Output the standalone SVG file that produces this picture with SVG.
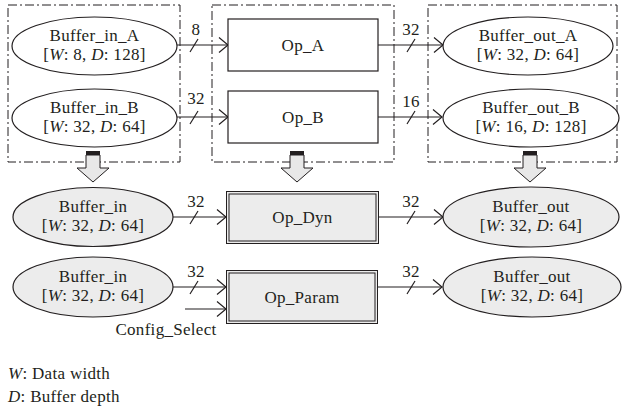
<svg xmlns="http://www.w3.org/2000/svg" width="623" height="414" viewBox="0 0 623 414" font-family="'Liberation Serif', 'DejaVu Serif', serif">
<style>
text{font-family:'Liberation Serif','DejaVu Serif',serif;font-size:17px;fill:#231f20;text-anchor:middle;letter-spacing:0.3px}
.it{font-style:italic}
.ell{fill:#fff;stroke:#231f20;stroke-width:1.2}
.ellg{fill:#ececec;stroke:#231f20;stroke-width:1.2}
.box{fill:#fff;stroke:#231f20;stroke-width:1.2}
.boxg{fill:#ececec;stroke:#231f20;stroke-width:1}
.grp{fill:none;stroke:#231f20;stroke-width:1;stroke-dasharray:9 3 2 3}
.ln{fill:none;stroke:#231f20;stroke-width:1.2}
.hol{fill:#e8e8e8;stroke:#231f20;stroke-width:1}
</style>
<defs>
<marker id="ah" markerWidth="12" markerHeight="16" refX="10" refY="8" orient="auto" markerUnits="userSpaceOnUse">
<path d="M1,0.5 L10,8 L1,15.5" fill="none" stroke="#231f20" stroke-width="1.2"/>
</marker>
<g id="harrow">
<rect x="-7" y="0" width="14" height="4" fill="#231f20"/>
<path class="hol" d="M-7,4 L7,4 L7,17 L16,17 L0,31 L-16,17 L-7,17 Z"/>
</g>
</defs>

<g id="groups">
<rect class="grp" x="8" y="5" width="172" height="157"/>
<rect class="grp" x="212" y="5" width="182" height="157"/>
<rect class="grp" x="428" y="5" width="189" height="157"/>
</g>

<g id="connectors">
<line class="ln" x1="177" y1="45" x2="228" y2="45" marker-end="url(#ah)"/>
<line class="ln" x1="190" y1="52" x2="198" y2="39"/>
<text x="196" y="35">8</text>
<line class="ln" x1="177" y1="117" x2="228" y2="117" marker-end="url(#ah)"/>
<line class="ln" x1="190" y1="124" x2="198" y2="111"/>
<text x="196" y="104">32</text>
<line class="ln" x1="378" y1="45" x2="443" y2="45" marker-end="url(#ah)"/>
<line class="ln" x1="407" y1="52" x2="415" y2="39"/>
<text x="411" y="35">32</text>
<line class="ln" x1="378" y1="117" x2="442" y2="117" marker-end="url(#ah)"/>
<line class="ln" x1="407" y1="124" x2="415" y2="111"/>
<text x="411" y="107">16</text>
<line class="ln" x1="173" y1="217" x2="226" y2="217" marker-end="url(#ah)"/>
<line class="ln" x1="190" y1="224" x2="198" y2="211"/>
<text x="196" y="207">32</text>
<line class="ln" x1="379" y1="217" x2="443" y2="217" marker-end="url(#ah)"/>
<line class="ln" x1="407" y1="224" x2="415" y2="211"/>
<text x="411" y="207">32</text>
<line class="ln" x1="173" y1="287" x2="226" y2="287" marker-end="url(#ah)"/>
<line class="ln" x1="190" y1="294" x2="198" y2="281"/>
<text x="196" y="277">32</text>
<line class="ln" x1="185" y1="309" x2="226" y2="309" marker-end="url(#ah)"/>
<text x="166" y="335">Config_Select</text>
<line class="ln" x1="378" y1="287" x2="442" y2="287" marker-end="url(#ah)"/>
<line class="ln" x1="407" y1="294" x2="415" y2="281"/>
<text x="411" y="277">32</text>
<use href="#harrow" x="93" y="151"/>
<use href="#harrow" x="297" y="151"/>
<use href="#harrow" x="530" y="151"/>
</g>

<g id="buffer_in_a">
<ellipse class="ell" cx="94.5" cy="46" rx="82.5" ry="29"/>
<text x="94.5" y="41">Buffer_in_A</text>
<text x="94.5" y="60">[<tspan class="it">W</tspan>: 8, <tspan class="it">D</tspan>: 128]</text>
</g>
<g id="buffer_in_b">
<ellipse class="ell" cx="94.5" cy="118" rx="82.5" ry="29"/>
<text x="94.5" y="113">Buffer_in_B</text>
<text x="94.5" y="132">[<tspan class="it">W</tspan>: 32, <tspan class="it">D</tspan>: 64]</text>
</g>
<g id="op_a">
<rect class="box" x="228" y="19" width="150" height="52"/>
<text x="303" y="51">Op_A</text>
</g>
<g id="op_b">
<rect class="box" x="228" y="91" width="150" height="52"/>
<text x="303" y="123">Op_B</text>
</g>
<g id="buffer_out_a">
<ellipse class="ell" cx="528" cy="46" rx="85" ry="29"/>
<text x="528" y="41">Buffer_out_A</text>
<text x="528" y="60">[<tspan class="it">W</tspan>: 32, <tspan class="it">D</tspan>: 64]</text>
</g>
<g id="buffer_out_b">
<ellipse class="ell" cx="531" cy="118" rx="88" ry="29"/>
<text x="531" y="113">Buffer_out_B</text>
<text x="531" y="132">[<tspan class="it">W</tspan>: 16, <tspan class="it">D</tspan>: 128]</text>
</g>

<g id="buffer_in_dyn">
<ellipse class="ellg" cx="93" cy="217" rx="80" ry="29.5"/>
<text x="93" y="212">Buffer_in</text>
<text x="93" y="231">[<tspan class="it">W</tspan>: 32, <tspan class="it">D</tspan>: 64]</text>
</g>
<g id="op_dyn">
<rect class="boxg" x="226.5" y="191.5" width="152" height="52"/>
<rect fill="none" stroke="#231f20" stroke-width="1" x="229" y="194" width="147" height="47"/>
<text x="302.5" y="223">Op_Dyn</text>
</g>
<g id="buffer_out_dyn">
<ellipse class="ellg" cx="531" cy="217" rx="88" ry="30"/>
<text x="531" y="212">Buffer_out</text>
<text x="531" y="231">[<tspan class="it">W</tspan>: 32, <tspan class="it">D</tspan>: 64]</text>
</g>

<g id="buffer_in_param">
<ellipse class="ellg" cx="93" cy="287" rx="80" ry="30"/>
<text x="93" y="282">Buffer_in</text>
<text x="93" y="301">[<tspan class="it">W</tspan>: 32, <tspan class="it">D</tspan>: 64]</text>
</g>
<g id="op_param">
<rect class="boxg" x="226.5" y="270.5" width="151" height="53"/>
<rect fill="none" stroke="#231f20" stroke-width="1" x="229" y="273" width="146" height="48"/>
<text x="302" y="303">Op_Param</text>
</g>
<g id="buffer_out_param">
<ellipse class="ellg" cx="532" cy="287" rx="89" ry="30"/>
<text x="532" y="282">Buffer_out</text>
<text x="532" y="301">[<tspan class="it">W</tspan>: 32, <tspan class="it">D</tspan>: 64]</text>
</g>

<g id="legend">
<text x="8" y="379" style="text-anchor:start"><tspan class="it">W</tspan>: Data width</text>
<text x="8" y="402" style="text-anchor:start"><tspan class="it">D</tspan>: Buffer depth</text>
</g>
</svg>
